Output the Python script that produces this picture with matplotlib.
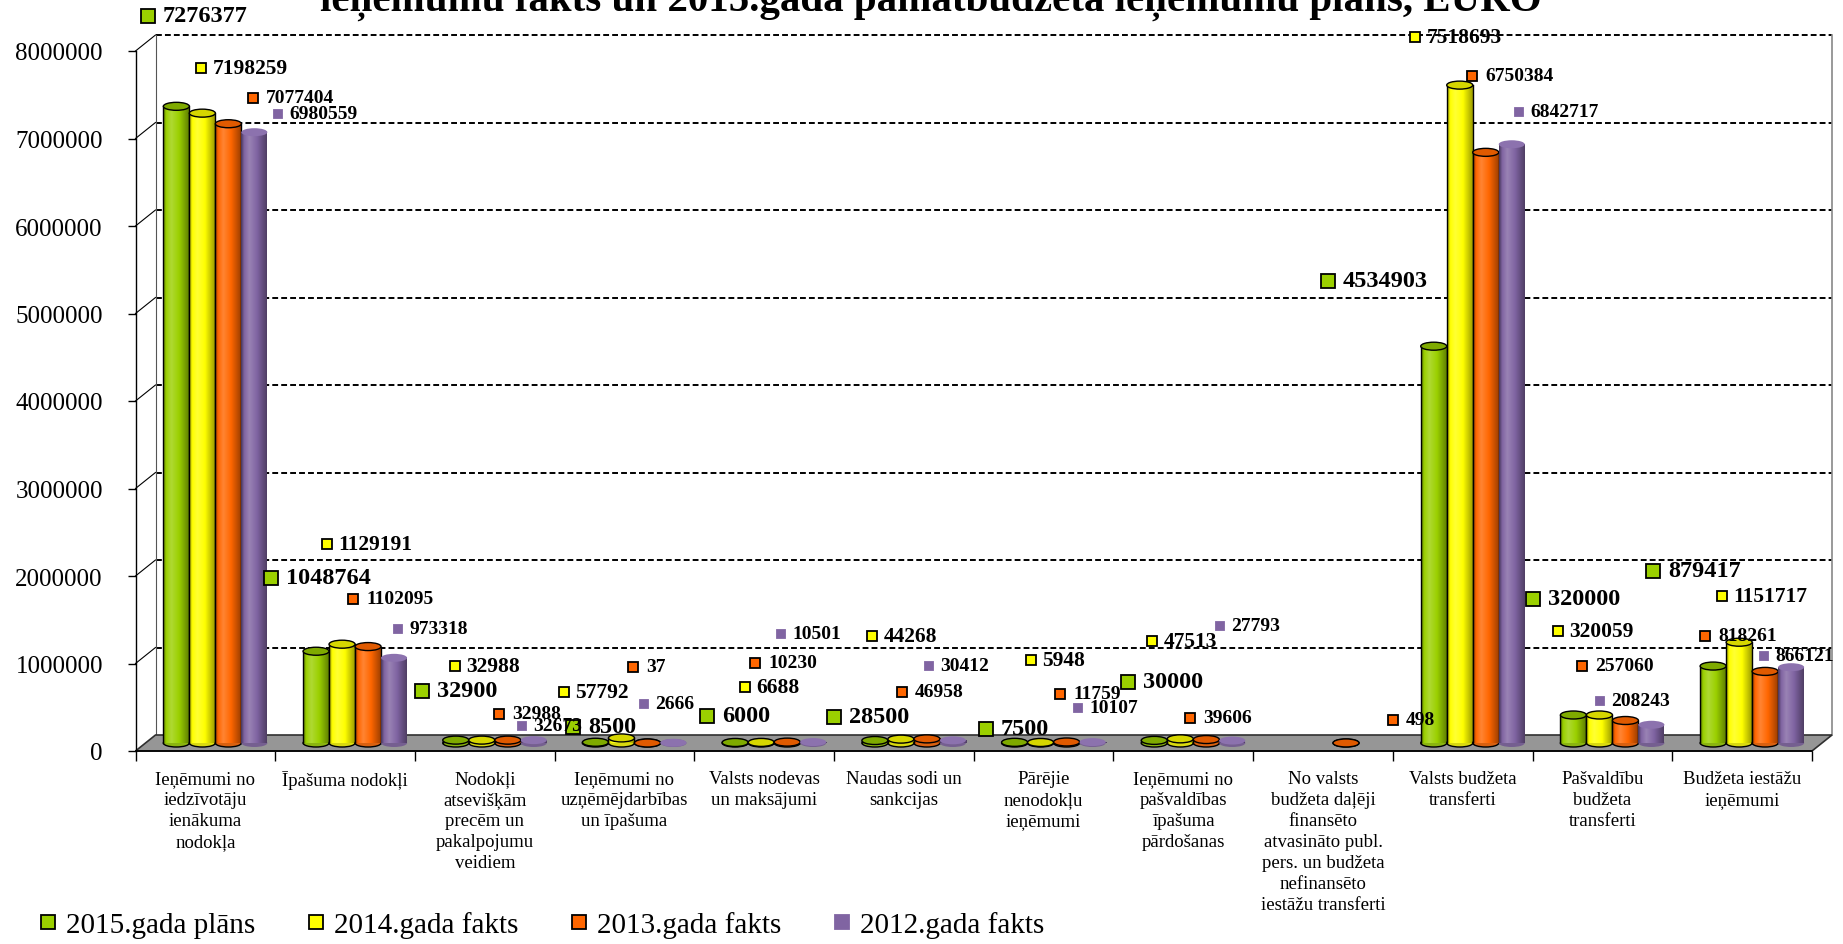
import numpy as np
import matplotlib.pyplot as plt
from matplotlib.patches import Ellipse, Polygon
from matplotlib.lines import Line2D
from matplotlib.colors import to_rgb

# categories and series
categories = [
    'Ieņēmumi no\niedzīvotāju\nienākuma\nnodokļa',
    'Īpašuma nodokļi',
    'Nodokļi\natsevišķām\nprecēm un\npakalpojumu\nveidiem',
    'Ieņēmumi no\nuzņēmējdarbības\nun īpašuma',
    'Valsts nodevas\nun maksājumi',
    'Naudas sodi un\nsankcijas',
    'Pārējie\nnenodokļu\nieņēmumi',
    'Ieņēmumi no\npašvaldības\nīpašuma\npārdošanas',
    'No valsts\nbudžeta daļēji\nfinansēto\natvasināto publ.\npers. un budžeta\nnefinansēto\niestāžu transferti',
    'Valsts budžeta\ntransferti',
    'Pašvaldību\nbudžeta\ntransferti',
    'Budžeta iestāžu\nieņēmumi',
]
series_names = ['2015.gada plāns', '2014.gada fakts', '2013.gada fakts', '2012.gada fakts']

plan_2015 = [7276377, 1048764, 32900, 8500, 6000, 28500, 7500, 30000, None, 4534903, 320000, 879417]
fact_2014 = [7198259, 1129191, 32988, 57792, 6688, 44268, 5948, 47513, None, 7518693, 320059, 1151717]
fact_2013 = [7077404, 1102095, 32988, 37, 10230, 46958, 11759, 39606, 498, 6750384, 257060, 818261]
fact_2012 = [6980559, 973318, 32673, 2666, 10501, 30412, 10107, 27793, None, 6842717, 208243, 866121]

yticks = np.arange(0, 8000001, 1000000)

# where Excel left the data labels (centre of the key square, px from top-left)
lab_plan = [(148, 17), (271, 579), (422, 692), (573, 728), (707, 717), (834, 718),
            (986, 730), (1128, 683), None, (1328, 282), (1533, 600), (1653, 572)]
lab_2014 = [(201, 69), (327, 545), (455, 667), (564, 693), (745, 688), (872, 637),
            (1031, 661), (1152, 642), None, (1415, 38), (1558, 632), (1722, 597)]
lab_2013 = [(253, 99), (353, 600), (499, 715), (633, 668), (755, 664), (902, 693),
            (1060, 695), (1190, 719), (1393, 721), (1472, 77), (1582, 667), (1705, 637)]
lab_2012 = [(278, 115), (398, 630), (522, 727), (644, 705), (781, 635), (929, 667),
            (1078, 709), (1220, 627), None, (1519, 113), (1600, 702), (1764, 657)]

values = [plan_2015, fact_2014, fact_2013, fact_2012]
label_pos = [lab_plan, lab_2014, lab_2013, lab_2012]
colors = ['#9BD000', '#FFFF00', '#FF6600', '#8064A2']
top_colors = ['#7FAA00', '#D6D600', '#E05A00', '#8C72AE']
edge = ['black', 'black', 'black', None]
lab_size = [17.5, 15.5, 14, 14]
key_size = [9.5, 7.5, 7.5, 6.2]
key_gap = [15, 11.5, 13, 11.5]

W, H = 1843, 945
fig = plt.figure(figsize=(W / 100, H / 100), dpi=100)
ax = fig.add_axes([135.5 / W, 193 / H, 1676.5 / W, 700 / H])
ax.set_xlim(0, 12)
ax.set_ylim(0, 8e6)

serif = 'Liberation Serif'
DX = 20 / (1676.5 / 12)      # depth offset in category units
DY = 16 / 700 * 8e6          # depth offset in value units
BW = 26 / (1676.5 / 12)      # cylinder width
EH = 8 / 700 * 8e6           # ellipse height

# back wall, left wall and floor
for v in yticks[1:]:
    ax.plot([DX, 12 + DX], [v + DY, v + DY], color='black', lw=1.4,
            ls=(0, (3, 1.6)), zorder=1, clip_on=False)
    ax.plot([0, DX], [v, v + DY], color='black', lw=0.8, zorder=1, clip_on=False)
ax.plot([DX, DX], [DY, 8e6 + DY], color='#555555', lw=0.8, zorder=1, clip_on=False)
ax.plot([12 + DX, 12 + DX], [DY, 8e6 + DY], color='#888888', lw=1.2, zorder=1, clip_on=False)
ax.add_patch(Polygon([(0, 0), (12, 0), (12 + DX, DY), (DX, DY)], closed=True,
                     fc='#969696', ec='#303030', lw=1.2, zorder=2, clip_on=False))


def shade(c):
    c = np.array(to_rgb(c))
    dark = c * 0.55
    dark2 = c * 0.62
    light = c + (1 - c) * 0.2
    t = np.linspace(0, 1, 80)
    keys = [0, 0.12, 0.32, 0.62, 1]
    cols = np.array([dark, c, light, c, dark2])
    img = np.stack([np.interp(t, keys, cols[:, k]) for k in range(3)], axis=-1)
    return img[np.newaxis, :, :]


base = DY / 2
for i, vals in enumerate(values):
    img = shade(colors[i])
    ec = edge[i] if edge[i] else colors[i]
    lw = 1.0 if edge[i] else 0
    for j, v in enumerate(vals):
        if v is None:
            continue
        xc = j + 0.5 + DX / 2 + (i - 1.5) * BW
        x0, x1 = xc - BW / 2, xc + BW / 2
        top = base + v
        z = 3 + i * 0.3
        ax.add_patch(Ellipse((xc, base), BW, EH, fc=tuple(img[0, 40] * 0.85),
                             ec=ec, lw=lw, zorder=z - 0.05))
        ax.imshow(img, extent=(x0, x1, base, top), aspect='auto',
                  interpolation='bilinear', zorder=z)
        if edge[i]:
            ax.plot([x0, x0], [base, top], color='black', lw=1.0, zorder=z + 0.01)
            ax.plot([x1, x1], [base, top], color='black', lw=1.0, zorder=z + 0.01)
        ax.add_patch(Ellipse((xc, top), BW, EH, fc=top_colors[i], ec=ec, lw=lw,
                             zorder=z + 0.05))

ax.set_xlim(0, 12)
ax.set_ylim(0, 8e6)

# data labels with their legend keys
inv = ax.transData.inverted()
for i, vals in enumerate(values):
    for j, v in enumerate(vals):
        pos = label_pos[i][j]
        if v is None or pos is None:
            continue
        kx, ky = inv.transform((pos[0], H - pos[1]))
        tx, _ = inv.transform((pos[0] + key_gap[i], H - pos[1]))
        ax.plot([kx], [ky], marker='s', ms=key_size[i], mfc=colors[i],
                mec=edge[i] if edge[i] else colors[i], mew=1.3, ls='',
                zorder=10, clip_on=False)
        ax.text(tx, ky, str(v), fontsize=lab_size[i], fontweight='bold', family=serif,
                ha='left', va='center', zorder=11, clip_on=False)

# axes, ticks
for s in ['top', 'right']:
    ax.spines[s].set_visible(False)
ax.spines['left'].set_linewidth(1.0)
ax.spines['bottom'].set_linewidth(1.2)
ax.spines['left'].set_zorder(2.5)
ax.spines['bottom'].set_zorder(2.5)

ax.set_yticks(yticks)
ax.set_yticklabels([str(int(v)) for v in yticks], fontsize=18, family=serif)
ax.tick_params(axis='y', length=6, width=1, pad=17.5, direction='out')

ax.set_xticks(np.arange(13))
ax.set_xticklabels([])
ax.tick_params(axis='x', which='major', length=7, width=1, direction='out')
ax.set_xticks(np.arange(12) + 0.5, minor=True)
ax.set_xticklabels(categories, minor=True, fontsize=13.5, family=serif, linespacing=1.3)
ax.tick_params(axis='x', which='minor', length=0, pad=14)

# title (only its lower line is visible in the frame)
fig.text(931 / W, 1 - 11 / H, 'ieņēmumu fakts un 2015.gada pamatbudžeta ieņēmumu plāns, EURO',
         ha='center', va='baseline', fontsize=29.5, fontweight='bold', family=serif)

# legend
handles = [Line2D([], [], marker='s', ls='', ms=10, mfc=c,
                  mec=(e if e else c), mew=1.3) for c, e in zip(colors, edge)]
fig.legend(handles, series_names, loc='center left', bbox_to_anchor=(38 / W, 1 - 926 / H),
           ncol=4, frameon=False, prop={'family': serif, 'size': 21},
           handlelength=0.7, handletextpad=0.25, columnspacing=1.75,
           borderaxespad=0, borderpad=0)

fig.savefig('out.png', dpi=100)
